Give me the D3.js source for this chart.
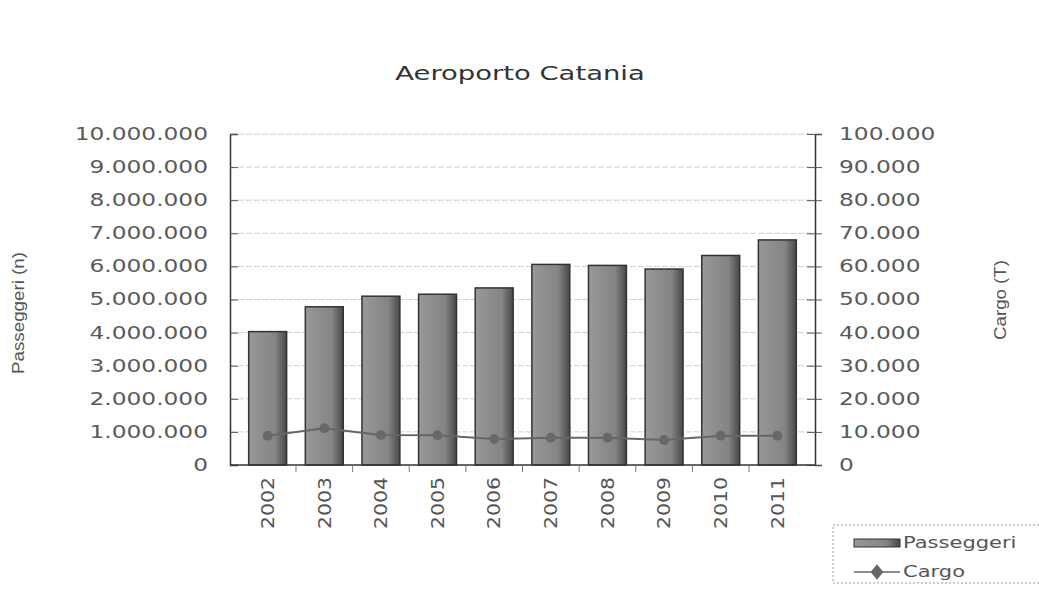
<!DOCTYPE html>
<html>
<head>
<meta charset="utf-8">
<script src="https://cdn.jsdelivr.net/npm/d3@7"></script>
<style>
  body { margin: 0; background: #fff; }
  text { font-family: "DejaVu Sans", Verdana, sans-serif; }
</style>
</head>
<body>
<div id="visualization"></div>
<script>
const years = ["2002", "2003", "2004", "2005", "2006", "2007", "2008", "2009", "2010", "2011"];
const passeggeri = [4030000, 4780000, 5100000, 5160000, 5350000, 6060000, 6030000, 5920000, 6330000, 6800000];
const cargo = [8850, 11100, 9050, 9000, 7850, 8250, 8250, 7550, 8850, 8850];
const leftTicks = [0, 1e6, 2e6, 3e6, 4e6, 5e6, 6e6, 7e6, 8e6, 9e6, 1e7];
const rightTicks = [0, 1e4, 2e4, 3e4, 4e4, 5e4, 6e4, 7e4, 8e4, 9e4, 1e5];

const margin = { top: 134, right: 224, bottom: 130, left: 230 },
  width = 1039 - margin.left - margin.right,
  height = 595 - margin.top - margin.bottom;

// the scanned picture is stretched sideways, so text gets widened too
const K = 1.37;
const stretch = (sel, k) =>
  sel.each(function () {
    const l = this.getComputedTextLength();
    d3.select(this).attr("textLength", l * k).attr("lengthAdjust", "spacingAndGlyphs");
  });

const it = d3.formatLocale({ decimal: ",", thousands: ".", grouping: [3], currency: ["", ""] });
const fmt = it.format(",d");

const root = d3
  .select("#visualization")
  .append("svg")
  .attr("width", 1039)
  .attr("height", 595);

const defs = root.append("defs");
const grad = defs.append("linearGradient").attr("id", "barGrad").attr("x1", 0).attr("x2", 1).attr("y1", 0).attr("y2", 0);
grad.append("stop").attr("offset", "0%").attr("stop-color", "#989898");
grad.append("stop").attr("offset", "70%").attr("stop-color", "#848484");
grad.append("stop").attr("offset", "100%").attr("stop-color", "#484848");

const svg = root.append("g").attr("transform", `translate(${margin.left}, ${margin.top})`);

// title
root
  .append("text")
  .attr("x", 520)
  .attr("y", 80)
  .attr("text-anchor", "middle")
  .attr("font-size", "20px")
  .attr("fill", "#333")
  .text("Aeroporto Catania")
  .call(stretch, K);

const x = d3.scaleBand().domain(years).range([0, width]).padding(0.33);
const y = d3.scaleLinear().domain([0, 1e7]).range([height, 0]);
const y2 = d3.scaleLinear().domain([0, 1e5]).range([height, 0]);

// gridlines
svg
  .append("g")
  .selectAll("line")
  .data(leftTicks.slice(1))
  .join("line")
  .attr("x1", 0)
  .attr("x2", width)
  .attr("y1", (d) => y(d))
  .attr("y2", (d) => y(d))
  .attr("stroke", "#d0d0d0")
  .attr("stroke-dasharray", "6,2");

// bars
svg
  .append("g")
  .selectAll("rect")
  .data(passeggeri)
  .join("rect")
  .attr("x", (d, i) => x(years[i]))
  .attr("y", (d) => y(d))
  .attr("width", x.bandwidth())
  .attr("height", (d) => height - y(d))
  .attr("fill", "url(#barGrad)")
  .attr("stroke", "#333")
  .attr("stroke-width", 1.5);

// cargo line
const line = d3
  .line()
  .x((d, i) => x(years[i]) + x.bandwidth() / 2)
  .y((d) => y2(d));
svg
  .append("path")
  .datum(cargo)
  .attr("d", line)
  .attr("fill", "none")
  .attr("stroke", "#666")
  .attr("stroke-width", 2);
svg
  .append("g")
  .selectAll("path")
  .data(cargo)
  .join("path")
  .attr("d", d3.symbol(d3.symbolCircle, 75))
  .attr("transform", (d, i) => `translate(${x(years[i]) + x.bandwidth() / 2}, ${y2(d)})`)
  .attr("fill", "#686868");

// left axis
const yAxis = svg
  .append("g")
  .call(d3.axisLeft(y).tickValues(leftTicks).tickFormat(fmt).tickSize(-8).tickPadding(22));
yAxis.select(".domain").attr("stroke", "#333").attr("stroke-width", 1.5);
yAxis.selectAll(".tick line").attr("stroke", "#555");
yAxis.selectAll("text").attr("font-size", "17px").attr("fill", "#5a5a5a").call(stretch, K);

// right axis
const yAxis2 = svg
  .append("g")
  .attr("transform", `translate(${width}, 0)`)
  .call(d3.axisRight(y2).tickValues(rightTicks).tickFormat(fmt).tickSize(7).tickPadding(17));
yAxis2.select(".domain").attr("stroke", "#333").attr("stroke-width", 1.5);
yAxis2.selectAll(".tick line").attr("x1", -8).attr("stroke", "#555");
yAxis2.selectAll("text").attr("font-size", "17px").attr("fill", "#5a5a5a").call(stretch, K);

// bottom axis, ticks between bands
const xAxis = svg.append("g").attr("transform", `translate(0, ${height})`);
xAxis
  .append("line")
  .attr("x1", 0)
  .attr("x2", width)
  .attr("stroke", "#333")
  .attr("stroke-width", 1.5);
xAxis
  .selectAll(".sep")
  .data(years.slice(1))
  .join("line")
  .attr("x1", (d) => x(d) - (x.step() * x.paddingInner()) / 2)
  .attr("x2", (d) => x(d) - (x.step() * x.paddingInner()) / 2)
  .attr("y1", 0)
  .attr("y2", 7)
  .attr("stroke", "#777");
xAxis
  .selectAll("text")
  .data(years)
  .join("text")
  .attr("transform", (d) => `translate(${x(d) + x.bandwidth() / 2}, 12) rotate(-90)`)
  .attr("text-anchor", "end")
  .attr("dy", "0.35em")
  .attr("font-size", "18px")
  .attr("fill", "#555")
  .attr("textLength", 52)
  .attr("lengthAdjust", "spacingAndGlyphs")
  .text((d) => d);

// axis titles
root
  .append("text")
  .attr("transform", "translate(24, 313) rotate(-90)")
  .attr("text-anchor", "middle")
  .style("font-family", "'Liberation Sans', Arial, sans-serif")
  .attr("font-size", "17px")
  .attr("fill", "#555")
  .attr("textLength", 122)
  .attr("lengthAdjust", "spacingAndGlyphs")
  .text("Passeggeri (n)");
root
  .append("text")
  .attr("transform", "translate(1006, 300) rotate(-90)")
  .attr("text-anchor", "middle")
  .style("font-family", "'Liberation Sans', Arial, sans-serif")
  .attr("font-size", "17px")
  .attr("fill", "#555")
  .attr("textLength", 80)
  .attr("lengthAdjust", "spacingAndGlyphs")
  .text("Cargo (T)");

// legend
const legend = root.append("g");
legend
  .append("rect")
  .attr("x", 833)
  .attr("y", 525)
  .attr("width", 220)
  .attr("height", 58)
  .attr("fill", "none")
  .attr("stroke", "#999")
  .attr("stroke-dasharray", "2,2");
legend
  .append("rect")
  .attr("x", 854)
  .attr("y", 539)
  .attr("width", 46)
  .attr("height", 8)
  .attr("fill", "url(#barGrad)")
  .attr("stroke", "#333");
legend
  .append("text")
  .attr("x", 903)
  .attr("y", 548)
  .attr("font-size", "15px")
  .attr("fill", "#555")
  .text("Passeggeri")
  .call(stretch, 1.4);
legend
  .append("line")
  .attr("x1", 854)
  .attr("x2", 900)
  .attr("y1", 572)
  .attr("y2", 572)
  .attr("stroke", "#666")
  .attr("stroke-width", 1.5);
legend
  .append("path")
  .attr("d", d3.symbol(d3.symbolDiamond, 70))
  .attr("transform", "translate(877, 572) scale(1.4, 1)")
  .attr("fill", "#666");
legend
  .append("text")
  .attr("x", 903)
  .attr("y", 577)
  .attr("font-size", "15px")
  .attr("fill", "#555")
  .text("Cargo")
  .call(stretch, 1.4);
</script>
</body>
</html>
